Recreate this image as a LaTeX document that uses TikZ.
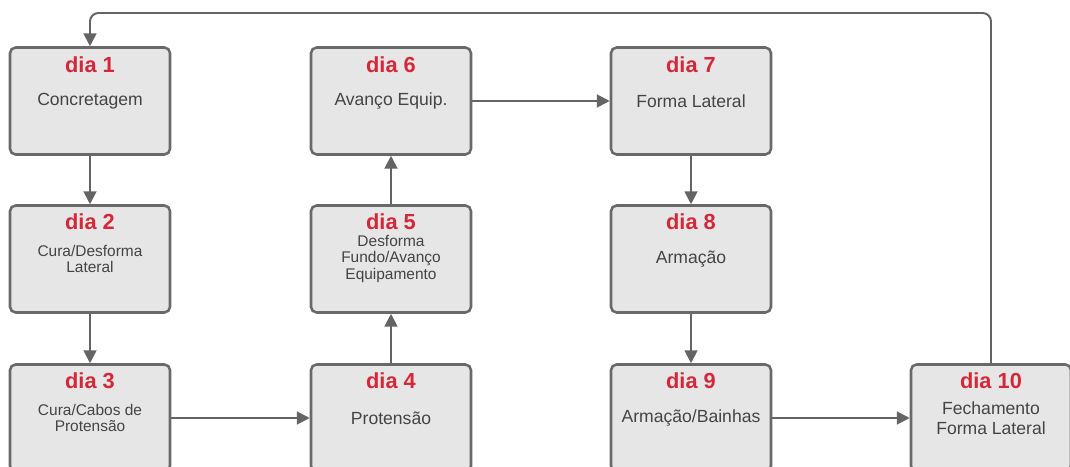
\documentclass[tikz,border=0pt]{standalone}
\usepackage{fontspec}
\setmainfont{Liberation Sans}
\usetikzlibrary{arrows.meta}
\definecolor{boxedge}{RGB}{105,105,105}
\definecolor{boxfill}{RGB}{230,230,230}
\definecolor{textgray}{RGB}{68,68,68}
\definecolor{diared}{RGB}{212,40,58}
\definecolor{linegray}{RGB}{100,100,100}
\tikzset{
  diabox/.style={draw=boxedge, line width=1.8pt, rounded corners=4pt, fill=boxfill, minimum width=4cm, minimum height=2.675cm, align=center, text=textgray, font=\fontsize{12.5}{14}\selectfont},
  smalltext/.style={font=\fontsize{11}{11.6}\selectfont},
  daylabel/.style={text=diared, font=\bfseries\fontsize{15.5}{16}\selectfont, inner sep=0pt},
  flowarrow/.style={-{Triangle[length=3.2mm, width=3.2mm]}, line width=1.4pt, draw=linegray}
}

\begin{document}
\begin{tikzpicture}
      \clip (0,0) rectangle (26.75,-11.675);
      \node[diabox] (d1) at (2.25,-2.525) {Concretagem};
      \node[diabox, smalltext] (d2) at (2.25,-6.475) {Cura/Desforma\\Lateral};
      \node[diabox, smalltext] (d3) at (2.25,-10.45) {Cura/Cabos de\\Protensão};
      \node[diabox] (d4) at (9.775,-10.45) {Protensão};
      \node[diabox, smalltext] (d5) at (9.775,-6.475) {Desforma\\Fundo/Avanço\\Equipamento};
      \node[diabox] (d6) at (9.775,-2.525) {Avanço Equip.};
      \node[diabox] (d7) at (17.275,-2.525) {Forma Lateral};
      \node[diabox] (d8) at (17.275,-6.475) {Armação};
      \node[diabox] (d9) at (17.275,-10.45) {Armação/Bainhas};
      \node[diabox] (d10) at (24.775,-10.45) {Fechamento\\Forma Lateral};
      \node[daylabel] (l1) at ([yshift=-0.47cm]d1.north) {dia 1};
      \node[daylabel] (l2) at ([yshift=-0.43cm]d2.north) {dia 2};
      \node[daylabel] (l3) at ([yshift=-0.43cm]d3.north) {dia 3};
      \node[daylabel] (l4) at ([yshift=-0.43cm]d4.north) {dia 4};
      \node[daylabel] (l5) at ([yshift=-0.43cm]d5.north) {dia 5};
      \node[daylabel] (l6) at ([yshift=-0.47cm]d6.north) {dia 6};
      \node[daylabel] (l7) at ([yshift=-0.47cm]d7.north) {dia 7};
      \node[daylabel] (l8) at ([yshift=-0.43cm]d8.north) {dia 8};
      \node[daylabel] (l9) at ([yshift=-0.43cm]d9.north) {dia 9};
      \node[daylabel] (l10) at ([yshift=-0.43cm]d10.north) {dia 10};
      \coordinate (topline) at (0,-0.325);
      \draw[flowarrow] (d1) -- (d2);
      \draw[flowarrow] (d2) -- (d3);
      \draw[flowarrow] (d3) -- (d4);
      \draw[flowarrow] (d4) -- (d5);
      \draw[flowarrow] (d5) -- (d6);
      \draw[flowarrow] (d6) -- (d7);
      \draw[flowarrow] (d7) -- (d8);
      \draw[flowarrow] (d8) -- (d9);
      \draw[flowarrow] (d9) -- (d10);
      \draw[flowarrow, rounded corners=6pt] (d10.north) -- (d10.north |- topline) -- (d1.north |- topline) -- (d1.north);
    \end{tikzpicture}
\end{document}
